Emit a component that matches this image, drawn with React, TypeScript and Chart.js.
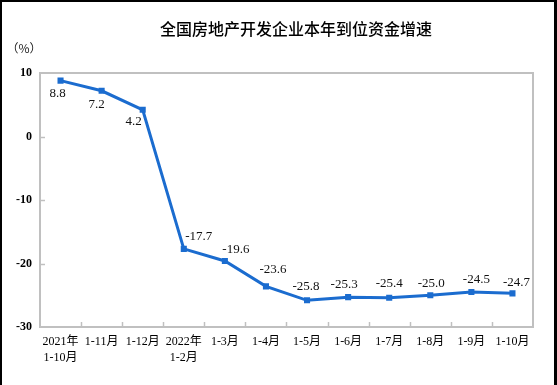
import React, { useEffect, useRef } from "react";
import { Chart, registerables } from "chart.js";

Chart.register(...registerables);

const chartTitle = "全国房地产开发企业本年到位资金增速";
const unitLabel = "（%）";
const categories: (string | string[])[] = [
  ["2021年", "1-10月"],
  "1-11月",
  "1-12月",
  ["2022年", "1-2月"],
  "1-3月",
  "1-4月",
  "1-5月",
  "1-6月",
  "1-7月",
  "1-8月",
  "1-9月",
  "1-10月",
];
const growth = [8.8, 7.2, 4.2, -17.7, -19.6, -23.6, -25.8, -25.3, -25.4, -25.0, -24.5, -24.7];
const yMin = -30;
const yMax = 10;
const yStep = 10;

// label placement offsets (style only)
const labelOffsets: [number, number][] = [
  [-3, 13], [-5, 14], [-9, 12], [15, -12], [11, -11], [7, -17],
  [-1, -14], [-4, -13], [0, -14], [1, -12], [5, -12], [4, -11],
];

const LINE_BLUE = "#1b6ccf";
const AXIS_GRAY = "#c0c0c0";
const SERIF = "'Liberation Serif', 'Times New Roman', 'Noto Sans CJK SC', serif";

const decorPlugin = {
  id: "decor",
  beforeDatasetsDraw(chart: any) {
    const ctx = chart.ctx;
    const { left, right, top, bottom } = chart.chartArea;
    const xs = chart.scales.x;
    const ys = chart.scales.y;
    ctx.save();
    ctx.strokeStyle = AXIS_GRAY;
    ctx.lineWidth = 2;
    ctx.strokeRect(left, top, right - left, bottom - top);
    ctx.lineWidth = 1.5;
    // inside y ticks
    for (let v = yMin + yStep; v < yMax; v += yStep) {
      const py = Math.round(ys.getPixelForValue(v)) + 0.5;
      ctx.beginPath();
      ctx.moveTo(left, py);
      ctx.lineTo(left + 5, py);
      ctx.stroke();
    }
    // inside x ticks at category boundaries
    const n = categories.length;
    const w = (right - left) / n;
    for (let i = 1; i < n; i++) {
      const px = Math.round(xs.getPixelForValue(i) - w / 2) + 0.5;
      ctx.beginPath();
      ctx.moveTo(px, bottom);
      ctx.lineTo(px, bottom - 5);
      ctx.stroke();
    }
    ctx.restore();
  },
  afterDraw(chart: any) {
    const ctx = chart.ctx;
    const xs = chart.scales.x;
    const ys = chart.scales.y;
    ctx.save();
    // data labels
    ctx.fillStyle = "#111";
    ctx.font = `13px ${SERIF}`;
    ctx.textAlign = "center";
    ctx.textBaseline = "middle";
    growth.forEach((v, i) => {
      const px = xs.getPixelForValue(i);
      const py = ys.getPixelForValue(v);
      const [dx, dy] = labelOffsets[i];
      ctx.fillText(v.toFixed(1), px + dx, py + dy);
    });
    // title
    ctx.fillStyle = "#000";
    ctx.font = `500 16px 'Noto Sans CJK SC', sans-serif`;
    ctx.fillText(chartTitle, 296, 29);
    // unit
    ctx.font = `12px 'Noto Sans CJK SC', sans-serif`;
    ctx.fillStyle = "#222";
    ctx.fillText(unitLabel, 24, 48);
    // outer black frame
    ctx.fillStyle = "#000";
    ctx.fillRect(0, 0, 557, 2);
    ctx.fillRect(0, 0, 2, 385);
    ctx.fillRect(554, 0, 3, 385);
    ctx.restore();
  },
};

export default function App() {
  const ref = useRef<HTMLCanvasElement | null>(null);

  useEffect(() => {
    document.body.style.margin = "0";
    const canvas = ref.current;
    if (!canvas) return;
    const chart = new Chart(canvas, {
      type: "line",
      data: {
        labels: categories,
        datasets: [
          {
            data: growth,
            borderColor: LINE_BLUE,
            backgroundColor: LINE_BLUE,
            borderWidth: 3,
            tension: 0,
            pointStyle: "rect",
            pointRadius: 4.3,
            pointBorderWidth: 0,
            pointBackgroundColor: LINE_BLUE,
          },
        ],
      },
      options: {
        responsive: false,
        animation: false,
        events: [],
        layout: { padding: { top: 73, right: 24, left: 0, bottom: 0 } },
        plugins: {
          legend: { display: false },
          title: { display: false },
          tooltip: { enabled: false },
        },
        scales: {
          x: {
            offset: true,
            grid: { display: false, drawTicks: false },
            border: { display: false },
            ticks: {
              autoSkip: false,
              maxRotation: 0,
              minRotation: 0,
              padding: 7,
              color: "#000",
              font: { family: SERIF, size: 12, lineHeight: 1.34 },
            },
            afterFit(scale: any) {
              scale.height = 58;
            },
          },
          y: {
            min: yMin,
            max: yMax,
            grid: { display: false, drawTicks: false },
            border: { display: false },
            ticks: {
              stepSize: yStep,
              padding: 8,
              color: "#000",
              font: { family: SERIF, size: 12, weight: "bold" },
            },
            afterFit(scale: any) {
              scale.width = 40;
            },
          },
        },
      },
      plugins: [decorPlugin],
    });
    return () => chart.destroy();
  }, []);

  return (
    <div style={{ position: "fixed", left: 0, top: 0, width: 557, height: 385, background: "#fff" }}>
      <canvas ref={ref} width={557} height={385} style={{ display: "block", width: 557, height: 385 }} />
    </div>
  );
}
